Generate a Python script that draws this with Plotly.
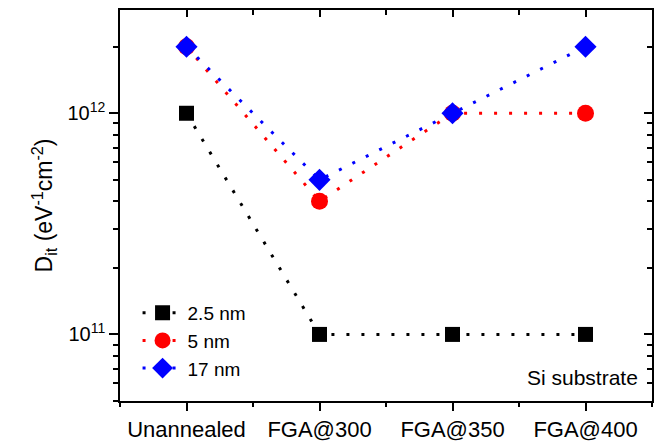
import plotly.graph_objects as go
import math

categories = ["Unannealed", "FGA@300", "FGA@350", "FGA@400"]
dit_2p5nm = [1e12, 1e11, 1e11, 1e11]
dit_5nm = [2e12, 4e11, 1e12, 1e12]
dit_17nm = [2e12, 5e11, 1e12, 2e12]

# (name, values, colour, symbol, size, x-axis, y-axis)
series = [
    ("2.5 nm", dit_2p5nm, "black", "square", 15, "x", "y"),
    ("5 nm", dit_5nm, "#ff0000", "circle", 17, "x", "y"),
    ("17 nm", dit_17nm, "#0000ff", "diamond", 17, "x2", "y2"),
]

xpos = list(range(len(categories)))
fig = go.Figure()
for name, vals, color, sym, size, xa, ya in series:
    fig.add_trace(go.Scatter(
        x=xpos, y=vals, name=name, mode="lines+markers",
        xaxis=xa, yaxis=ya,
        line=dict(color=color, width=3, dash="3px,12px"),
        marker=dict(symbol=sym, size=size, color=color, line=dict(width=0)),
    ))

yr = [math.log10(5e10), math.log10(2.93e12)]
xr = [-0.5, 3.5]
y_minor = [5e10, 6e10, 7e10, 8e10, 9e10] + [k * 1e11 for k in range(2, 10)] + [2e12]
x_minor = [-0.5, 0.5, 1.5, 2.5, 3.5]
font = "Liberation Sans, Arial, sans-serif"

fig.update_layout(
    template="none",
    width=654, height=446,
    margin=dict(l=120, r=2, t=10, b=45),
    paper_bgcolor="white", plot_bgcolor="rgba(0,0,0,0)",
    font=dict(family=font, color="black", size=20),
    showlegend=True,
    legend=dict(x=0.033, y=0.274, xanchor="left", yanchor="top",
                bgcolor="rgba(0,0,0,0)", font=dict(size=19),
                tracegroupgap=0, itemwidth=40),
    xaxis=dict(
        domain=[0, 1], anchor="y",
        range=xr, tickvals=xpos, ticktext=categories,
        ticks="outside", ticklen=8, tickwidth=1.5, tickcolor="black",
        showline=True, linecolor="black", linewidth=1.5, mirror=True,
        showgrid=False, zeroline=False, tickfont=dict(size=22),
        minor=dict(tickvals=x_minor, ticks="outside", ticklen=4,
                   tickwidth=1.5, tickcolor="black", showgrid=False),
    ),
    yaxis=dict(
        domain=[0, 1], anchor="x",
        type="log", range=yr, tickvals=[1e11, 1e12],
        ticktext=["10<sup>11</sup>", "10<sup>12</sup>"],
        ticks="outside", ticklen=9, tickwidth=1.5, tickcolor="black",
        showline=True, linecolor="black", linewidth=1.5, mirror=True,
        showgrid=False, zeroline=False, tickfont=dict(size=20),
        title=dict(text="D<sub>it</sub> (eV<sup>-1</sup>cm<sup>-2</sup>)",
                   font=dict(size=23), standoff=8),
        minor=dict(tickvals=y_minor, ticks="outside", ticklen=5,
                   tickwidth=1.5, tickcolor="black", showgrid=False),
    ),
    # second subplot over the same area: supplies the inward ticks on top/right
    xaxis2=dict(
        domain=[0, 1], anchor="y2", side="top", range=xr,
        tickmode="array", tickvals=xpos, ticktext=["", "", "", ""],
        showticklabels=True, ticks="inside", ticklen=7, tickwidth=1.5,
        tickcolor="black", showgrid=False, zeroline=False, showline=False,
        minor=dict(tickvals=x_minor, ticks="inside", ticklen=5,
                   tickwidth=1.5, tickcolor="black", showgrid=False),
    ),
    yaxis2=dict(
        domain=[0, 1], anchor="x2", side="right", type="log", range=yr,
        tickmode="array", tickvals=[1e11, 1e12], ticktext=["", ""],
        showticklabels=True, ticks="inside",
        ticklen=8, tickwidth=1.5, tickcolor="black", showgrid=False,
        zeroline=False, showline=False,
        minor=dict(tickvals=y_minor, ticks="inside", ticklen=5,
                   tickwidth=1.5, tickcolor="black", showgrid=False),
    ),
    annotations=[dict(text="Si substrate", xref="paper", yref="paper",
                      x=0.978, y=0.06, xanchor="right", yanchor="middle",
                      showarrow=False, font=dict(size=21))],
)

fig.write_html("out.html",
               config={"displayModeBar": False},
               post_script="document.body.style.margin='0';"
                           "document.body.style.overflow='hidden';")
